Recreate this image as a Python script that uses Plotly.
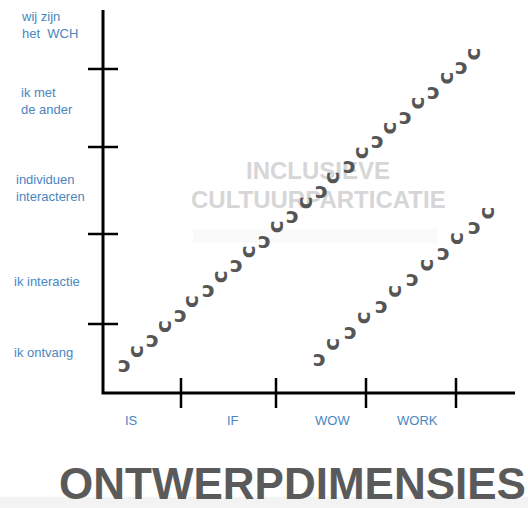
import plotly.graph_objects as go

# ---- data (diagram units: 1 unit = one step of the sketch grid) ----
x_categories = ["IS", "IF", "WOW", "WORK"]
x_label_pos = [0.28, 1.30, 2.29, 3.14]
x_ticks = [0.78, 1.73, 2.63, 3.53]
x_axis_end = 4.12

y_levels = ["wij zijn<br>het  WCH", "ik met<br>de ander", "individuen<br>interacteren",
            "ik interactie", "ik ontvang"]
y_label_pos = [3.68, 2.92, 2.05, 1.12, 0.41]
y_label_x = [-0.84, -0.84, -0.89, -0.91, -0.91]
y_ticks = [0.69, 1.59, 2.46, 3.24]
y_axis_end = 3.83

# paths of circular-arrow symbols: start/end and number of symbols
path_start_x = [0.21, 2.16]
path_start_y = [0.29, 0.35]
path_end_x = [3.73, 3.87]
path_end_y = [3.39, 1.80]
path_count = [26, 12]

watermark = ["INCLUSIEVE", "CULTUURPARTICATIE"]
title_text = "ONTWERPDIMENSIES"

BLUE = "#4a86c0"
DARK = "#555555"
TICK_HALF = 0.15
GLYPH_SIZE = 22

fig = go.Figure()

# axes
fig.add_trace(go.Scatter(x=[0, 0, x_axis_end], y=[y_axis_end, 0, 0], mode="lines",
                         line=dict(color="black", width=3), hoverinfo="skip", showlegend=False))
for t in x_ticks:
    fig.add_trace(go.Scatter(x=[t, t], y=[-TICK_HALF, TICK_HALF], mode="lines",
                             line=dict(color="black", width=2.5), hoverinfo="skip", showlegend=False))
for t in y_ticks:
    fig.add_trace(go.Scatter(x=[-TICK_HALF, TICK_HALF], y=[t, t], mode="lines",
                             line=dict(color="black", width=2.5), hoverinfo="skip", showlegend=False))

annotations = []
for lab, xp in zip(x_categories, x_label_pos):
    annotations.append(dict(x=xp, y=-0.27, xref="x", yref="y", text=lab, showarrow=False,
                            font=dict(family="Liberation Sans, Arial", size=13, color=BLUE)))
for lab, yp, xp in zip(y_levels, y_label_pos, y_label_x):
    annotations.append(dict(x=xp, y=yp, xref="x", yref="y", text=lab, showarrow=False,
                            xanchor="left", align="left",
                            font=dict(family="Liberation Sans, Arial", size=13, color=BLUE)))

# watermark
for i, w in enumerate(watermark):
    annotations.append(dict(x=2.15, y=2.23 - 0.29 * i, xref="x", yref="y", text="<b>%s</b>" % w,
                            showarrow=False,
                            font=dict(family="Liberation Sans, Arial", size=24, color="#d6d6d6")))

# symbol paths (open circular arrows, alternating orientation)
for sx, sy, ex, ey, n in zip(path_start_x, path_start_y, path_end_x, path_end_y, path_count):
    for k in range(n):
        f = k / (n - 1)
        annotations.append(dict(x=sx + (ex - sx) * f, y=sy + (ey - sy) * f, xref="x", yref="y",
                                text="<b>ɔ</b>", showarrow=False,
                                textangle=90 if k % 2 == 1 else 0,
                                font=dict(family="DejaVu Sans", size=GLYPH_SIZE, color=DARK)))

# big title
annotations.append(dict(x=292 / 528, y=1 - 483 / 508, xref="paper", yref="paper",
                        xanchor="center", yanchor="middle",
                        text="<b>%s</b>" % title_text, showarrow=False,
                        font=dict(family="Liberation Sans, Arial", size=44, color="#5a5a5a")))

fig.update_layout(
    width=528, height=508,
    margin=dict(l=0, r=0, t=0, b=0),
    paper_bgcolor="white", plot_bgcolor="white",
    xaxis=dict(range=[-1.03, 4.25], visible=False, fixedrange=True),
    yaxis=dict(range=[-1.15, 3.93], visible=False, fixedrange=True),
    annotations=annotations,
    shapes=[
        dict(type="rect", xref="paper", yref="paper", x0=0, x1=1, y0=0, y1=0.022,
             fillcolor="#f3f3f3", line=dict(width=0), layer="below"),
        dict(type="rect", xref="x", yref="y", x0=0.9, x1=3.35, y0=1.50, y1=1.64,
             fillcolor="#fafafa", line=dict(width=0), layer="below"),
    ],
    showlegend=False,
)

fig.write_html("out.html", config={"displayModeBar": False},
               post_script="document.body.style.margin='0';")
